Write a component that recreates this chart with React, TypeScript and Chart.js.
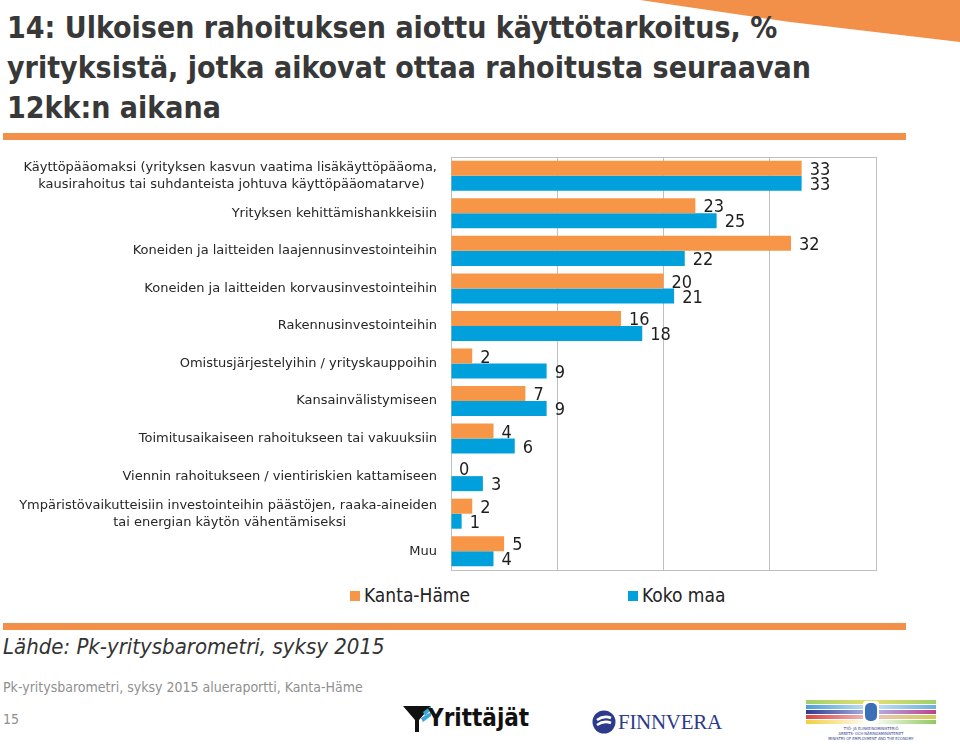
import React, { useEffect, useRef } from "react";
import { Chart, registerables } from "chart.js";

Chart.register(...registerables);

const categories: string[][] = [
  ["Käyttöpääomaksi (yrityksen kasvun vaatima lisäkäyttöpääoma,", "kausirahoitus tai suhdanteista johtuva käyttöpääomatarve)"],
  ["Yrityksen kehittämishankkeisiin"],
  ["Koneiden ja laitteiden laajennusinvestointeihin"],
  ["Koneiden ja laitteiden korvausinvestointeihin"],
  ["Rakennusinvestointeihin"],
  ["Omistusjärjestelyihin / yrityskauppoihin"],
  ["Kansainvälistymiseen"],
  ["Toimitusaikaiseen rahoitukseen tai vakuuksiin"],
  ["Viennin rahoitukseen / vientiriskien kattamiseen"],
  ["Ympäristövaikutteisiin investointeihin päästöjen, raaka-aineiden", "tai energian käytön vähentämiseksi"],
  ["Muu"],
];
const seriesNames = ["Kanta-Häme", "Koko maa"];
const kantaHame = [33, 23, 32, 20, 16, 2, 7, 4, 0, 2, 5];
const kokoMaa = [33, 25, 22, 21, 18, 9, 9, 6, 3, 1, 4];
const xTicks = [0, 10, 20, 30, 40];

const ORANGE = "#F79646";
const BLUE = "#00A0DD";
const DECOR = "#F2904A";
const GRID = "#BFBFBF";
const LABEL_FONT = "13px 'DejaVu Sans'";

function centerLines(lines: string[]): string | string[] {
  if (lines.length === 1) return lines[0];
  const ctx = document.createElement("canvas").getContext("2d")!;
  ctx.font = LABEL_FONT;
  const widths = lines.map((l) => ctx.measureText(l).width);
  const max = Math.max(...widths);
  const sp = ctx.measureText(" ").width;
  return lines.map((l, i) => l + " ".repeat(Math.round((max - widths[i]) / 2 / sp)));
}

const valueLabels = {
  id: "valueLabels",
  afterDatasetsDraw(chart: any) {
    const ctx = chart.ctx;
    ctx.save();
    ctx.font = "18px 'DejaVu Sans Condensed'";
    ctx.fillStyle = "#1e1e1e";
    ctx.textAlign = "left";
    ctx.textBaseline = "middle";
    chart.data.datasets.forEach((ds: any, di: number) => {
      const meta = chart.getDatasetMeta(di);
      meta.data.forEach((el: any, i: number) => {
        ctx.fillText(String(ds.data[i]), el.x + 8, el.y + 2);
      });
    });
    ctx.restore();
  },
};

const topFrame = {
  id: "topFrame",
  beforeDatasetsDraw(chart: any) {
    const { ctx, chartArea } = chart;
    ctx.save();
    ctx.strokeStyle = GRID;
    ctx.lineWidth = 1;
    ctx.beginPath();
    ctx.moveTo(chartArea.left, Math.round(chartArea.top) + 0.5);
    ctx.lineTo(chartArea.right, Math.round(chartArea.top) + 0.5);
    ctx.stroke();
    ctx.restore();
  },
};

function BarChart() {
  const ref = useRef<HTMLCanvasElement>(null);
  useEffect(() => {
    if (!ref.current) return;
    const chart = new Chart(ref.current, {
      type: "bar",
      data: {
        labels: categories.map(centerLines) as any,
        datasets: [
          { label: seriesNames[0], data: kantaHame, backgroundColor: ORANGE, categoryPercentage: 0.8, barPercentage: 1 },
          { label: seriesNames[1], data: kokoMaa, backgroundColor: BLUE, categoryPercentage: 0.8, barPercentage: 1 },
        ],
      },
      options: {
        indexAxis: "y",
        animation: false,
        responsive: true,
        maintainAspectRatio: false,
        layout: { padding: { top: 7, right: 4, bottom: 4, left: 0 } },
        plugins: { legend: { display: false }, tooltip: { enabled: false } },
        scales: {
          x: {
            min: 0,
            max: 40,
            afterBuildTicks: (s: any) => {
              s.ticks = xTicks.map((v) => ({ value: v }));
            },
            ticks: { display: false },
            grid: { color: GRID, drawTicks: false },
            border: { display: true, color: GRID },
            afterFit: (s: any) => {
              s.height = 0;
              s.paddingLeft = 0;
              s.paddingRight = 0;
            },
          },
          y: {
            ticks: {
              font: { family: "'DejaVu Sans'", size: 13, lineHeight: 1.3 },
              color: "#262626",
              padding: 14,
              autoSkip: false,
            },
            grid: { display: false, drawTicks: false },
            border: { display: true, color: GRID },
            afterFit: (s: any) => {
              s.width = 451;
              s.paddingTop = 0;
              s.paddingBottom = 0;
            },
          },
        },
      },
      plugins: [valueLabels, topFrame],
    });
    return () => chart.destroy();
  }, []);
  return <canvas ref={ref} />;
}

const abs = (o: React.CSSProperties): React.CSSProperties => ({ position: "absolute", ...o });

export default function App() {
  return (
    <div style={abs({ left: 0, top: 0, width: 960, height: 744, background: "#fff", overflow: "hidden" })}>
      <svg style={abs({ left: 0, top: 0 })} width={960} height={60}>
        <polygon points="640,0 960,0 960,42 790,22" fill={DECOR} />
      </svg>
      <div
        style={abs({
          left: 7,
          top: 8,
          width: 900,
          fontFamily: "'DejaVu Sans Condensed'",
          fontWeight: "bold",
          fontSize: 30,
          lineHeight: "40px",
          color: "#383838",
        })}
      >
        14: Ulkoisen rahoituksen aiottu käyttötarkoitus, %<br />
        yrityksistä, jotka aikovat ottaa rahoitusta seuraavan<br />
        12kk:n aikana
      </div>
      <div style={abs({ left: 3, top: 133, width: 903, height: 7, background: DECOR })} />

      <div style={abs({ left: 0, top: 150, width: 880, height: 424 })}>
        <BarChart />
      </div>

      <div style={abs({ left: 350, top: 591, width: 10, height: 10, background: ORANGE })} />
      <div style={abs({ left: 364, top: 584, fontFamily: "'DejaVu Sans Condensed'", fontSize: 19, color: "#222", whiteSpace: "nowrap" })}>
        {seriesNames[0]}
      </div>
      <div style={abs({ left: 628, top: 591, width: 10, height: 10, background: BLUE })} />
      <div style={abs({ left: 642, top: 584, fontFamily: "'DejaVu Sans Condensed'", fontSize: 19, color: "#222", whiteSpace: "nowrap" })}>
        {seriesNames[1]}
      </div>

      <div style={abs({ left: 3, top: 623, width: 903, height: 7, background: DECOR })} />
      <div
        style={abs({
          left: 3,
          top: 634,
          fontFamily: "'DejaVu Sans Condensed'",
          fontStyle: "italic",
          fontSize: 22,
          color: "#333",
          whiteSpace: "nowrap",
        })}
      >
        Lähde: Pk-yritysbarometri, syksy 2015
      </div>
      <div style={abs({ left: 3, top: 679, fontFamily: "'DejaVu Sans Condensed'", fontSize: 14, color: "#8f8f8f", whiteSpace: "nowrap" })}>
        Pk-yritysbarometri, syksy 2015 alueraportti, Kanta-Häme
      </div>
      <div style={abs({ left: 3, top: 711, fontFamily: "'DejaVu Sans Condensed'", fontSize: 14, color: "#8f8f8f" })}>15</div>

      {/* Yrittäjät logo */}
      <svg style={abs({ left: 403, top: 704 })} width={30} height={30}>
        <polygon points="0,2 28,2 16,16 16,28 12,28 12,16" fill="#111" />
        <polygon points="20,8 28,2 28,6 22,12" fill="#3aa6dc" />
        <polygon points="18,14 28,8 28,12 20,18" fill="#3aa6dc" />
      </svg>
      <div
        style={abs({
          left: 428,
          top: 704,
          fontFamily: "'DejaVu Sans Condensed'",
          fontWeight: "bold",
          fontSize: 24,
          color: "#111",
          whiteSpace: "nowrap",
        })}
      >
        Yrittäjät
      </div>

      {/* Finnvera logo */}
      <svg style={abs({ left: 592, top: 710 })} width={24} height={24}>
        <circle cx={12} cy={12} r={11.5} fill="#2d3a8c" />
        <path d="M5 10 Q12 5 19 8 M5 15 Q12 10 19 13" stroke="#fff" strokeWidth={2.5} fill="none" />
      </svg>
      <div
        style={abs({
          left: 618,
          top: 710,
          fontFamily: "'Liberation Serif'",
          fontSize: 21,
          color: "#2d3a8c",
          whiteSpace: "nowrap",
          letterSpacing: -0.3,
        })}
      >
        FINNVERA
      </div>

      {/* Ministry logo */}
      <div style={abs({ left: 806, top: 700, width: 130, height: 40 })}>
        <div style={abs({ left: 0, top: 0, width: 130, height: 4, background: "linear-gradient(90deg,#9fcf6a,#e8e070,#9fcf6a)" })} />
        <div style={abs({ left: 0, top: 5, width: 130, height: 4, background: "linear-gradient(90deg,#4aa0d8,#c7e3f2,#6ab0e0)" })} />
        <div style={abs({ left: 0, top: 10, width: 130, height: 4, background: "linear-gradient(90deg,#2e3a8c,#b0b8e8,#c04090)" })} />
        <div style={abs({ left: 0, top: 15, width: 130, height: 4, background: "linear-gradient(90deg,#e04040,#f0c0c0,#d0d050)" })} />
        <div style={abs({ left: 0, top: 20, width: 130, height: 4, background: "linear-gradient(90deg,#f0d040,#fff,#90c860)" })} />
        <div style={abs({ left: 57, top: 1, width: 16, height: 22, background: "#fff", borderRadius: 3 })} />
        <div style={abs({ left: 59, top: 3, width: 12, height: 18, background: "#3b6fb6", borderRadius: 5 })} />
        <div
          style={abs({
            left: 0,
            top: 26,
            width: 130,
            textAlign: "center",
            fontFamily: "'DejaVu Sans Condensed'",
            fontSize: 4,
            lineHeight: "5px",
            color: "#2d3a8c",
          })}
        >
          TYÖ- JA ELINKEINOMINISTERIÖ
          <br />
          ARBETS- OCH NÄRINGSMINISTERIET
          <br />
          MINISTRY OF EMPLOYMENT AND THE ECONOMY
        </div>
      </div>
    </div>
  );
}
